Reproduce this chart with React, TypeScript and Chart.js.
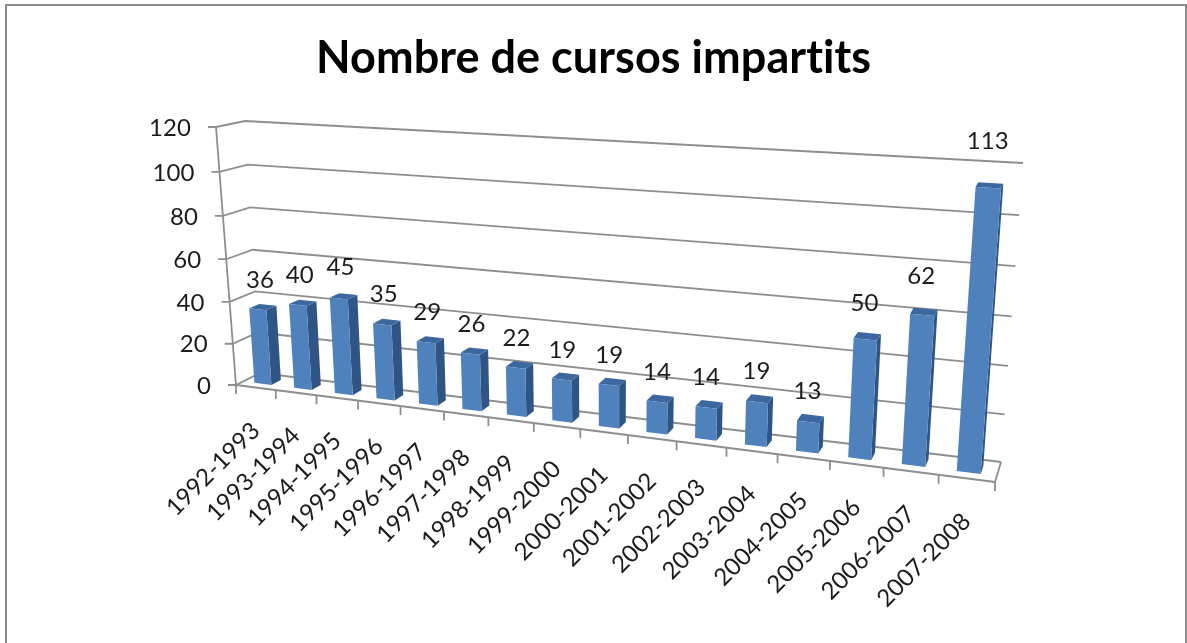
import React, { useEffect, useRef } from "react";
import { Chart, registerables } from "chart.js";

Chart.register(...registerables);

const categories = [
  "1992-1993", "1993-1994", "1994-1995", "1995-1996", "1996-1997", "1997-1998", "1998-1999", "1999-2000",
  "2000-2001", "2001-2002", "2002-2003", "2003-2004", "2004-2005", "2005-2006", "2006-2007", "2007-2008",
];
const courses = [36, 40, 45, 35, 29, 26, 22, 19, 19, 14, 14, 19, 13, 50, 62, 113];
const yTicks = { min: 0, max: 120, stepSize: 20 };
const titleText = "Nombre de cursos impartits";

type Pt = [number, number];
// Projection of the chart area on to the two walls of the 3-D box: [top-left, top-right, bottom-right, bottom-left]
const frontQuad: Pt[] = [[216, 127], [1018, 174], [995, 482], [236, 385]];
const backQuad: Pt[] = [[245, 121], [1023, 163], [1001, 462], [260, 373]];
const depthStart = 0.3;
const depthEnd = 0.7;

function homography(q: Pt[]) {
  const [[x0, y0], [x1, y1], [x2, y2], [x3, y3]] = q;
  const dx1 = x1 - x2, dx2 = x3 - x2, sx = x0 - x1 + x2 - x3;
  const dy1 = y1 - y2, dy2 = y3 - y2, sy = y0 - y1 + y2 - y3;
  const d = dx1 * dy2 - dx2 * dy1;
  const g = (sx * dy2 - dx2 * sy) / d;
  const h = (dx1 * sy - sx * dy1) / d;
  const a = x1 - x0 + g * x1, b = x3 - x0 + h * x3, c = x0;
  const e = y1 - y0 + g * y1, f = y3 - y0 + h * y3, k = y0;
  return (u: number, v: number): Pt => {
    const w = g * u + h * v + 1;
    return [(a * u + b * v + c) / w, (e * u + f * v + k) / w];
  };
}
const front = homography(frontQuad);
const back = homography(backQuad);
const project = (u: number, v: number, w: number): Pt => {
  const p = front(u, v), q = back(u, v);
  return [p[0] + (q[0] - p[0]) * w, p[1] + (q[1] - p[1]) * w];
};

const boxPlugin = {
  id: "box3d",
  beforeDraw(chart: any) {
    chart.ctx.letterSpacing = "0.05px";
  },
  beforeDatasetsDraw(chart: any) {
    const { ctx, chartArea: ca, scales } = chart;
    const U = (px: number) => (px - ca.left) / (ca.right - ca.left);
    const V = (py: number) => (py - ca.top) / (ca.bottom - ca.top);
    const line = (pts: Pt[]) => {
      ctx.beginPath();
      pts.forEach((p, i) => (i ? ctx.lineTo(p[0], p[1]) : ctx.moveTo(p[0], p[1])));
      ctx.stroke();
    };
    ctx.save();
    ctx.strokeStyle = "#8e8e8e";
    ctx.lineWidth = 1.8;
    // value gridlines across the side and back walls, with tick labels on the front-left edge
    ctx.font = "24px Lato";
    ctx.fillStyle = "#1c1c1c";
    ctx.textAlign = "right";
    ctx.textBaseline = "middle";
    scales.y.ticks.forEach((t: any) => {
      const v = V(scales.y.getPixelForValue(t.value));
      const a = project(0, v, 0);
      line([[a[0] - 8, a[1]], a, project(0, v, 1), project(1, v, 1)]);
      ctx.fillText(String(t.value), a[0] - 25, a[1] + 1);
    });
    // vertical axis and floor
    line([project(0, 0, 0), project(0, 1, 0)]);
    line([project(1, 1, 0), project(1, 1, 1)]);
    line([project(0, 1, 0), project(1, 1, 0)]);
    // category ticks and rotated labels
    const n = scales.x.ticks.length;
    for (let i = 0; i <= n; i++) {
      const p = project(i / n, 1, 0);
      line([p, [p[0], p[1] + 9]]);
    }
    scales.x.ticks.forEach((t: any, i: number) => {
      const u = U(scales.x.getPixelForTick(i));
      const p = project(u, 1, 0);
      ctx.save();
      ctx.translate(p[0], p[1] + 39);
      ctx.rotate(-Math.PI / 4);
      ctx.fillText(scales.x.getLabelForValue(t.value), 0, 0);
      ctx.restore();
    });
    ctx.restore();
  },
  beforeDatasetDraw(chart: any, args: any) {
    const { ctx, chartArea: ca } = chart;
    const meta = chart.getDatasetMeta(args.index);
    const U = (px: number) => (px - ca.left) / (ca.right - ca.left);
    const V = (py: number) => (py - ca.top) / (ca.bottom - ca.top);
    const poly = (pts: Pt[], fill: string) => {
      ctx.fillStyle = fill;
      ctx.beginPath();
      pts.forEach((p, i) => (i ? ctx.lineTo(p[0], p[1]) : ctx.moveTo(p[0], p[1])));
      ctx.closePath();
      ctx.fill();
    };
    ctx.save();
    meta.data.forEach((bar: any) => {
      const u0 = U(bar.x - bar.width / 2), u1 = U(bar.x + bar.width / 2);
      const vt = V(bar.y), vb = V(bar.base);
      const [w0, w1] = [depthStart, depthEnd];
      poly([project(u1, vt, w0), project(u1, vt, w1), project(u1, vb, w1), project(u1, vb, w0)], "#2f5585");
      poly([project(u0, vt, w0), project(u1, vt, w0), project(u1, vt, w1), project(u0, vt, w1)], "#3c689f");
      poly([project(u0, vt, w0), project(u1, vt, w0), project(u1, vb, w0), project(u0, vb, w0)], "#4f81bd");
    });
    // value labels
    ctx.font = "24px Lato";
    ctx.fillStyle = "#1c1c1c";
    ctx.textAlign = "center";
    ctx.textBaseline = "middle";
    const y = chart.scales.y;
    meta.data.forEach((bar: any, i: number) => {
      const value = courses[i];
      const u = U(bar.x);
      const p = project(u, V(y.getPixelForValue(value + 11 + 0.05 * value)), 0.5);
      ctx.fillText(String(value), p[0] - 1 - 4 * u, p[1]);
    });
    ctx.restore();
    return false;
  },
};

export default function App() {
  const ref = useRef<HTMLCanvasElement>(null);
  useEffect(() => {
    const chart = new Chart(ref.current!, {
      type: "bar",
      data: {
        labels: categories,
        datasets: [{ label: "Nombre de cursos", data: courses, backgroundColor: "#4f81bd", barPercentage: 0.43, categoryPercentage: 1 }],
      },
      options: {
        responsive: false,
        animation: false,
        layout: { padding: { left: 120, right: 120, top: 0, bottom: 100 } },
        plugins: {
          legend: { display: false },
          tooltip: { enabled: false },
          title: {
            display: true,
            text: titleText,
            color: "#000000",
            font: { family: "Lato", size: 45, weight: "bold" },
            padding: { top: 31, bottom: 20 },
          },
        },
        scales: {
          x: { display: false, ticks: { autoSkip: false } },
          y: { display: false, min: yTicks.min, max: yTicks.max, ticks: { stepSize: yTicks.stepSize } },
        },
      },
      plugins: [boxPlugin],
    } as any);
    return () => chart.destroy();
  }, []);
  return (
    <div style={{ position: "fixed", left: 0, top: 0, width: 1187, height: 643, background: "#fff" }}>
      <canvas ref={ref} width={1187} height={643} style={{ display: "block", filter: "blur(0.4px)" }} />
      <div style={{ position: "absolute", left: 5, top: 4, width: 1182, height: 639, boxSizing: "border-box", borderTop: "2px solid #8c8c8c", borderLeft: "2px solid #8c8c8c", borderRight: "2px solid #8c8c8c" }} />
    </div>
  );
}
